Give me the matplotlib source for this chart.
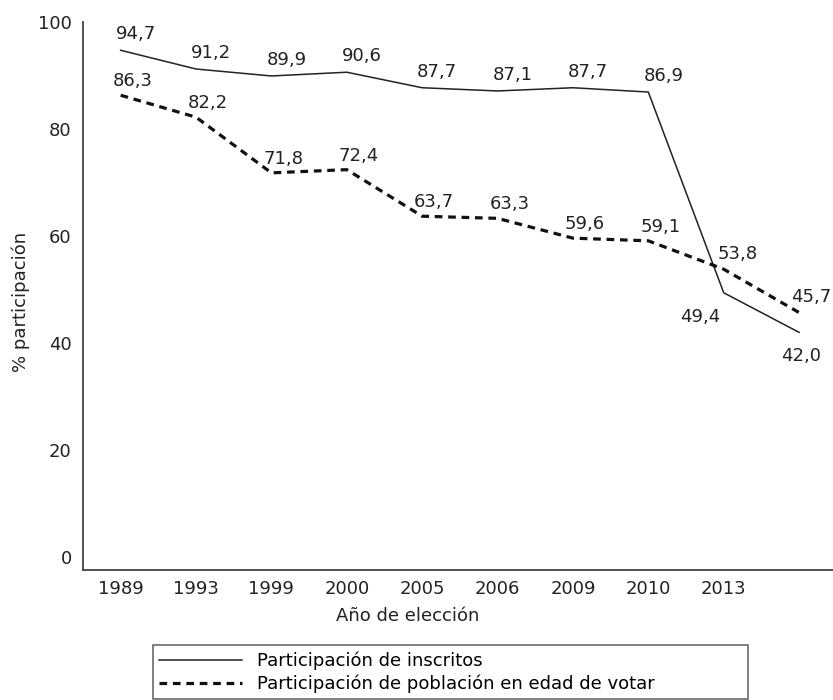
import matplotlib.pyplot as plt

plt.rcParams['font.family'] = ['DejaVu Sans']

# Participación electoral por año de elección
anios = ["1989", "1993", "1999", "2000", "2005", "2006", "2009", "2010", "2013", ""]
inscritos = [94.7, 91.2, 89.9, 90.6, 87.7, 87.1, 87.7, 86.9, 49.4, 42.0]
poblacion = [86.3, 82.2, 71.8, 72.4, 63.7, 63.3, 59.6, 59.1, 53.8, 45.7]

# desplazamiento de las etiquetas (pixeles)
off_insc = [(15, 16)] * 8 + [(-24, -24), (2, -24)]
off_pobl = [(12, 14)] * 8 + [(14, 15), (12, 16)]

x = list(range(len(anios)))

fig = plt.figure(figsize=(8.33, 7), dpi=100)
ax = fig.add_axes([0.0996, 0.1857, 0.9004, 0.783])

l1, = ax.plot(x, inscritos, color="#222222", lw=1.1,
              label="Participación de inscritos")
l2, = ax.plot(x, poblacion, color="#111111", lw=2.3, linestyle=(0, (2.4, 1.8)),
              label="Participación de población en edad de votar")

for xi, v, o in zip(x, inscritos, off_insc):
    ax.annotate(f"{v:.1f}".replace(".", ","), (xi, v), xytext=o,
                textcoords="offset pixels", ha="center", va="center",
                fontsize=13, color="#222222")
for xi, v, o in zip(x, poblacion, off_pobl):
    ax.annotate(f"{v:.1f}".replace(".", ","), (xi, v), xytext=o,
                textcoords="offset pixels", ha="center", va="center",
                fontsize=13, color="#222222")

ax.set_xlim(-0.5, 9.45)
ax.set_ylim(-2.4, 100)
ax.set_xticks(x[:9])
ax.set_xticklabels(anios[:9])
ax.set_yticks([0, 20, 40, 60, 80, 100])
ax.tick_params(length=0, labelsize=13, colors="#222222", pad=8)
ax.tick_params(axis="x", pad=7)
for s in ["top", "right"]:
    ax.spines[s].set_visible(False)
for s in ["left", "bottom"]:
    ax.spines[s].set_color("#444444")
    ax.spines[s].set_linewidth(1.3)

ax.set_xlabel("Año de elección", fontsize=13, color="#222222")
ax.xaxis.set_label_coords(0.433, -0.068)
ax.set_ylabel("% participación", fontsize=13, color="#222222")
ax.yaxis.set_label_coords(-0.071, 0.49)

leg = fig.legend(handles=[l1, l2], loc="upper left", mode="expand",
                 bbox_to_anchor=(153 / 833, 1 - 645 / 700, 595 / 833, 0),
                 borderaxespad=0, fontsize=13, frameon=True, fancybox=False,
                 handlelength=4.6, labelspacing=0.25, borderpad=0.35)
leg.get_frame().set_edgecolor("#444444")
leg.get_frame().set_linewidth(1.2)

plt.savefig("out.png", dpi=100)
